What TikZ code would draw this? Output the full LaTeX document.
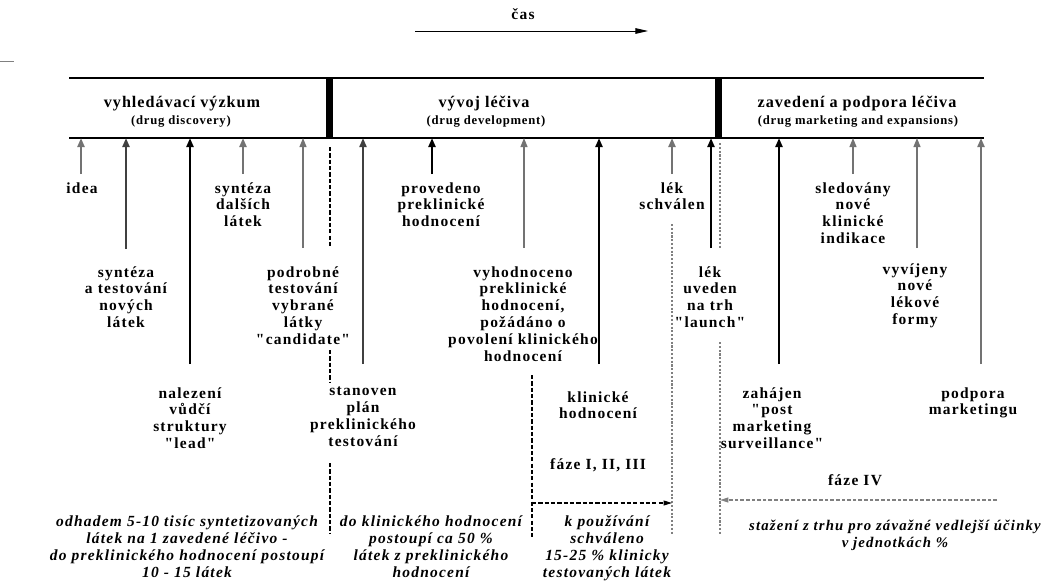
\documentclass[tikz,border=0pt]{standalone}
\usepackage{fontspec}
\setmainfont{Liberation Serif}
\newfontfamily\spacedserif[LetterSpace=6]{Liberation Serif}
\newfontfamily\widerserif[LetterSpace=8]{Liberation Serif}
\usetikzlibrary{arrows.meta}

\definecolor{midgray}{gray}{0.45}
\definecolor{dkgray}{gray}{0.25}
\definecolor{dotgray}{gray}{0.5}

\begin{document}
\begin{tikzpicture}[x=0.025cm, y=-0.025cm,
    lbl/.style={align=center, inner sep=0pt, anchor=north, font=\widerserif\bfseries\fontsize{11}{12}\selectfont},
    note/.style={lbl, font=\widerserif\bfseries\itshape\fontsize{11}{12.2}\selectfont},
    head/.style={inner sep=0pt, font=\spacedserif\bfseries\fontsize{11.5}{13}\selectfont},
    sub/.style={inner sep=0pt, font=\spacedserif\bfseries\fontsize{9}{10}\selectfont},
    tip/.style={-{Triangle[length=6.5pt,width=5pt]}},
    upblack/.style={tip, line width=2pt},
    upgray/.style={tip, line width=2pt, draw=midgray},
    updark/.style={tip, line width=2pt, draw=dkgray},
    upthin/.style={tip, line width=1pt, draw=midgray},
    dashblack/.style={line width=0.8pt, dash pattern=on 3pt off 1.5pt},
    dotline/.style={line width=2pt, draw=dotgray, dash pattern=on 1.5pt off 1.2pt}]
    \useasboundingbox (0,0) rectangle (1048,586);
    \draw[line width=0.6pt, gray] (0,61) -- (14,61);

    % time
    \node[lbl, anchor=center] (cas) at (523,14) {čas};
    \coordinate (c0) at (415,31);
    \coordinate (c1) at (648,31);
    \draw[-{Triangle[length=9pt,width=4pt]}, line width=0.6pt] (c0) -- (c1);

    % phases
    \coordinate (tl) at (69,78);
    \coordinate (tr) at (984,78);
    \coordinate (ax) at (69,138);
    \coordinate (axr) at (984,138);
    \draw[line width=1.6pt] (tl) -- (tr);
    \draw[line width=0.9pt] (ax) -- (axr);
    \draw[line width=4.5pt] (329.5,78) -- (329.5,138);
    \draw[line width=4.5pt] (718.5,78) -- (718.5,138);

    \node[head] (hd1) at (182,104) {vyhledávací výzkum};
    \node[sub] (hd1s) at (181,122) {(drug discovery)};
    \node[head] (hd2) at (484,104) {vývoj léčiva};
    \node[sub] (hd2s) at (486,122) {(drug development)};
    \node[head] (hd3) at (857,104) {zavedení a podpora léčiva};
    \node[sub] (hd3s) at (858,122) {(drug marketing and expansions)};

    % milestones
    \coordinate (t1) at (81,174);
    \draw[upgray] (t1) -- (t1 |- ax);
    \node[lbl] (idea) at (82,182) {idea};

    \coordinate (t2) at (126,249);
    \draw[updark] (t2) -- (t2 |- ax);
    \node[lbl] (synt) at (126,266) {syntéza\\a testování\\nových\\látek};

    \coordinate (t3) at (190,364);
    \draw[upblack] (t3) -- (t3 |- ax);
    \node[lbl] (lead) at (190,387) {nalezení\\vůdčí\\struktury\\"lead"};

    \coordinate (t4) at (243,174);
    \draw[upgray] (t4) -- (t4 |- ax);
    \node[lbl] (dalsi) at (243,182) {syntéza\\dalších\\látek};

    \coordinate (t5) at (303,248);
    \draw[upthin] (t5) -- (t5 |- ax);
    \node[lbl] (cand) at (303,266) {podrobné\\testování\\vybrané\\látky\\"candidate"};

    \coordinate (t6) at (363,364);
    \draw[tip, line width=1.5pt, draw=dkgray] (t6) -- (t6 |- ax);
    \node[lbl] (plan) at (363,387) {stanoven\\plán\\preklinického\\testování};

    \coordinate (t7) at (432,174);
    \draw[upblack] (t7) -- (t7 |- ax);
    \node[lbl] (preklin) at (441,182) {provedeno\\preklinické\\hodnocení};

    \coordinate (t8) at (524,248);
    \draw[upthin] (t8) -- (t8 |- ax);
    \node[lbl] (vyhod) at (523,266) {vyhodnoceno\\preklinické\\hodnocení,\\požádáno o\\povolení klinického\\hodnocení};

    \coordinate (t9) at (599,364);
    \draw[upblack] (t9) -- (t9 |- ax);
    \node[lbl] (klin) at (598,391) {klinické\\hodnocení};
    \node[lbl, anchor=center] (faze) at (598,465) {fáze I, II, III};

    \coordinate (t10) at (672,174);
    \draw[upgray] (t10) -- (t10 |- ax);
    \node[lbl] (schv) at (672,182) {lék\\schválen};

    \coordinate (t11) at (711,248);
    \draw[upblack] (t11) -- (t11 |- ax);
    \node[lbl] (launch) at (710,266) {lék\\uveden\\na trh\\"launch"};

    \coordinate (t12) at (779,364);
    \draw[upblack] (t12) -- (t12 |- ax);
    \node[lbl] (pms) at (772,387) {zahájen\\"post\\marketing\\surveillance"};

    \coordinate (t13) at (853,174);
    \draw[upthin] (t13) -- (t13 |- ax);
    \node[lbl] (indik) at (853,182) {sledovány\\nové\\klinické\\indikace};

    \coordinate (t14) at (917,248);
    \draw[upthin] (t14) -- (t14 |- ax);
    \node[lbl] (formy) at (915,263) {vyvíjeny\\nové\\lékové\\formy};

    \coordinate (t15) at (981,364);
    \draw[upgray] (t15) -- (t15 |- ax);
    \node[lbl] (mkt) at (973,387) {podpora\\marketingu};

    % limits
    \draw[dashblack] (330,147) -- (330,248);
    \draw[dashblack] (330,350) -- (330,382);
    \draw[dashblack] (330,463) -- (330,533);
    \draw[dotline] (672,224) -- (672,535);
    \draw[dotline] (720,143) -- (720,248);
    \draw[dotline] (720,342) -- (720,535);
    \draw[dashblack] (532,375) -- (532,537);

    \coordinate (k0) at (532,503);
    \coordinate (k1) at (672,503);
    \draw[dashblack, -{Triangle[length=6pt,width=3.5pt]}] (k0) -- (k1);
    \coordinate (f0) at (997,500);
    \coordinate (f1) at (720,500);
    \draw[line width=0.9pt, draw=dotgray, dash pattern=on 2.5pt off 1.5pt, -{Triangle[length=6pt,width=3.5pt]}] (f0) -- (f1);
    \node[lbl, anchor=center] (fazeIV) at (855,480) {fáze IV};

    % notes
    \node[note] (odhad) at (187,515) {odhadem 5-10 tisíc syntetizovaných\\látek na 1 zavedené léčivo -\\do preklinického hodnocení postoupí\\10 - 15 látek};
    \node[note] (doklin) at (431,515) {do klinického hodnocení\\postoupí ca 50 \%\\látek z preklinického\\hodnocení};
    \node[note] (kpouz) at (607,515) {k používání\\schváleno\\15-25 \% klinicky\\testovaných látek};
    \node[note, font=\widerserif\bfseries\itshape\fontsize{10.5}{12.2}\selectfont] (staz) at (895,520) {stažení z trhu pro závažné vedlejší účinky\\v jednotkách \%};
\end{tikzpicture}
\end{document}
